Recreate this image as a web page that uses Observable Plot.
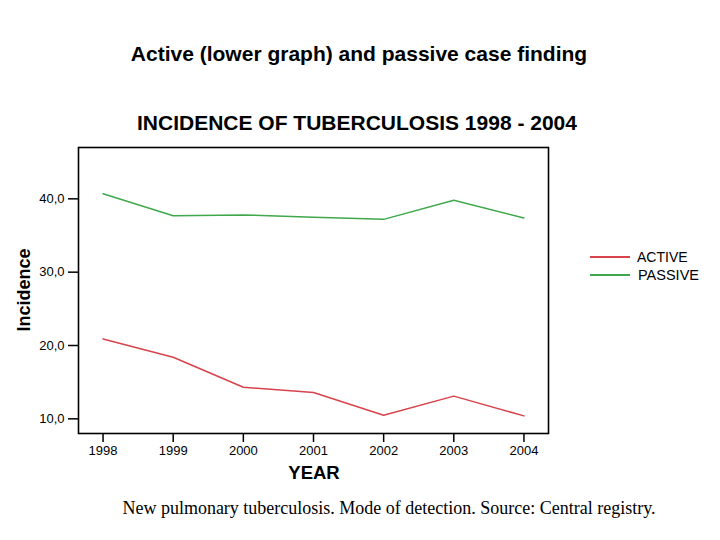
<!DOCTYPE html>
<html>
<head>
<meta charset="utf-8">
<script src="https://cdn.jsdelivr.net/npm/d3@7"></script>
<script src="https://cdn.jsdelivr.net/npm/@observablehq/plot@0.6"></script>
<style>
  html, body { margin: 0; padding: 0; background: #fff; }
  #wrap { position: relative; width: 720px; height: 540px; overflow: hidden; font-family: "Liberation Sans", Arial, sans-serif; }
  .abs { position: absolute; white-space: nowrap; }
  .title { font-weight: bold; font-size: 21px; color: #000; left: 0; width: 720px; text-align: center; }
  #chart { position: absolute; left: 0; top: 0; }
  .leg { font-size: 14px; color: #000; }
  .legline { position: absolute; height: 1.5px; width: 40px; }
</style>
</head>
<body>
<div id="wrap">
  <div class="abs title" style="top:42px; left:-1px;">Active (lower graph) and passive case finding</div>
  <div class="abs title" style="top:111px; left:-3px;">INCIDENCE OF TUBERCULOSIS 1998 - 2004</div>
  <div id="chart"></div>
  <div class="abs" style="left:24px; top:290px; transform: translate(-50%,-50%) rotate(-90deg); font-weight:bold; font-size:18px;">Incidence</div>
  <div class="abs" style="left:314px; top:473px; transform: translate(-50%,-50%); font-weight:bold; font-size:18.5px;">YEAR</div>
  <div class="legline" style="left:590px; top:256px; background:#d8434b;"></div>
  <div class="abs leg" style="left:637px; top:249px;">ACTIVE</div>
  <div class="legline" style="left:590px; top:274px; background:#40a84c;"></div>
  <div class="abs leg" style="left:638px; top:267px; font-size:14.5px;">PASSIVE</div>
  <div class="abs" style="left:0; width:778px; text-align:center; top:498px; font-family:'Liberation Serif','Times New Roman',serif; font-size:18px;">New pulmonary tuberculosis. Mode of detection. Source: Central registry.</div>
</div>
<script>
const years = [1998, 1999, 2000, 2001, 2002, 2003, 2004];
const active = [20.9, 18.4, 14.3, 13.6, 10.5, 13.1, 10.4];
const passive = [40.7, 37.7, 37.8, 37.5, 37.2, 39.8, 37.4];
const seriesNames = ["ACTIVE", "PASSIVE"];
const seriesColors = ["#d8434b", "#40a84c"];
const yTicks = [10, 20, 30, 40];

const data = [
  ...years.map((y, i) => ({year: y, value: active[i], series: seriesNames[0]})),
  ...years.map((y, i) => ({year: y, value: passive[i], series: seriesNames[1]}))
];

const fmtY = d => d.toFixed(1).replace(".", ",");

const chart = Plot.plot({
  width: 720,
  height: 540,
  marginLeft: 78,
  marginRight: 172,
  marginTop: 147,
  marginBottom: 107,
  style: {fontFamily: "'Liberation Sans', Arial, sans-serif", fontSize: "13px", color: "#000", background: "transparent"},
  x: {domain: [1997.65, 2004.35], label: null},
  y: {domain: [8, 47], label: null},
  color: {domain: seriesNames, range: seriesColors},
  marks: [
    Plot.axisX({ticks: years, tickFormat: d => String(d), tickSize: 9, tickPadding: 3, label: null, stroke: "#000", strokeWidth: 1.5, fontSize: 13}),
    Plot.axisY({ticks: yTicks, tickFormat: fmtY, tickSize: 10, tickPadding: 4, label: null, stroke: "#000", strokeWidth: 1.5, fontSize: 13}),
    Plot.frame({stroke: "#000", strokeWidth: 1.6}),
    Plot.line(data, {x: "year", y: "value", stroke: "series", z: "series", strokeWidth: 1.5})
  ]
});
document.getElementById("chart").appendChild(chart);
</script>
</body>
</html>
